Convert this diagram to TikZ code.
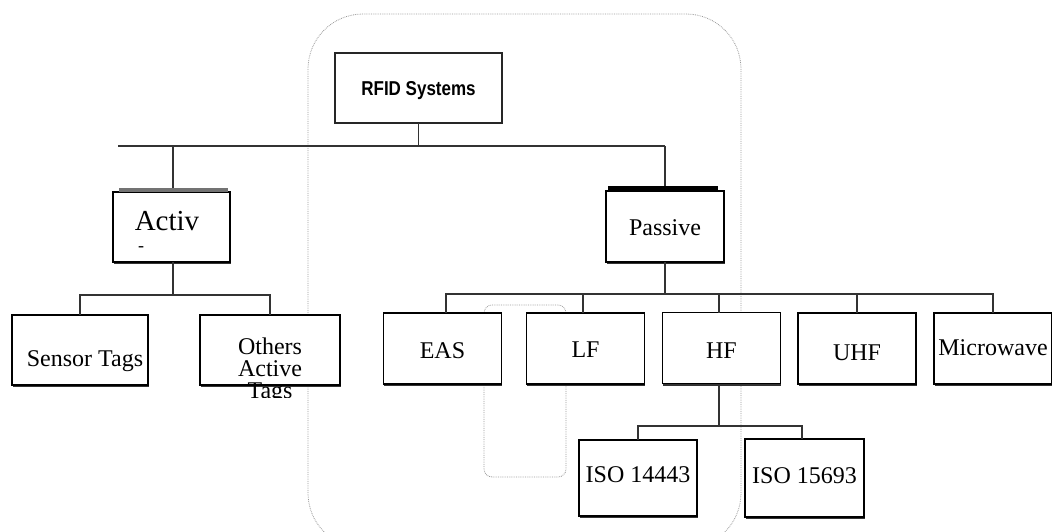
\documentclass[tikz,border=0pt]{standalone}
\usepackage{fontspec}
\setmainfont{Liberation Serif}
\newfontfamily\rfidfont{Liberation Sans}
\usetikzlibrary{shadows}
\begin{document}
\begin{tikzpicture}[x=1pt,y=-1pt,
  box/.style={draw=black, line width=1.8pt, fill=white, inner sep=0pt, outer sep=0pt,
    minimum width=118pt, minimum height=71pt, text depth=0pt, text height=18pt,
    font=\fontsize{24}{26}\selectfont},
  sbox/.style={box, drop shadow={shadow xshift=0.6pt, shadow yshift=-2.2pt, fill=black!80, opacity=1}},
  conn/.style={line width=1.3pt, draw=black!80},
  ghost/.style={draw=black!40, densely dotted, line width=0.8pt}]
\useasboundingbox (0,0) rectangle (1052,531);
% faint background outlines
\begin{scope}
  \clip (0,0) rectangle (1052,531);
  \draw[ghost, rounded corners=55pt] (308,14) rectangle (741,548);
  \draw[ghost, rounded corners=8pt] (484,305) rectangle (566,477);
\end{scope}
% root
\node[box, line width=1.2pt, draw=black!85, minimum width=167pt, minimum height=70pt,
  text height=15pt, font=\rfidfont\bfseries\fontsize{17}{19}\selectfont] (rfid) at (418.5,88) {\scalebox{1}[1.18]{RFID Systems}};
% level 1
\node[sbox, minimum width=117pt, minimum height=70pt] (activ) at (171.5,227) {};
\node[font=\fontsize{29}{30}\selectfont, anchor=base, inner sep=0pt] (activt) at (167,230) {Activ};
\node[font=\fontsize{18}{18}\selectfont, inner sep=0pt] (activdash) at (141,249) {-};
\node[sbox, text height=17pt] (passive) at (665,226.5) {Passive};
\fill[black!55] ([xshift=6pt]activ.north west) rectangle ([xshift=-2pt,yshift=4pt]activ.north east);
\fill[black] ([xshift=2pt]passive.north west) rectangle ([xshift=-6pt,yshift=5pt]passive.north east);
% level 2, active
\node[sbox, minimum width=136pt, minimum height=70pt, text height=32pt] (sensor) at (80,350) {\hspace*{10pt}Sensor Tags};
\node[sbox, minimum width=140pt, minimum height=70pt] (others) at (270,350) {};
\begin{scope}
  \clip (150,300) rectangle (400,397);
  \node[anchor=north, align=center, inner sep=0pt, font=\fontsize{24}{22}\selectfont] (otherst) at (270,337.5) {Others\\Active\\Tags};
\end{scope}
% level 2, passive
\node[sbox, text height=19pt] (eas) at (442.5,348.5) {EAS};
\node[sbox, text height=17pt] (lf) at (585.5,348.5) {LF};
\node[sbox, text height=20pt] (hf) at (721.5,348) {HF};
\node[sbox, text height=23pt] (uhf) at (857,348.5) {UHF};
\node[sbox, text height=13pt] (micro) at (993,348.5) {Microwave};
% level 3
\node[sbox, minimum height=76pt, text height=8pt] (iso1) at (638,478) {ISO 14443};
\node[sbox, minimum width=119pt, minimum height=78pt, text height=10pt] (iso2) at (804.5,478) {ISO 15693};
% connectors
\coordinate (b1) at (118,146);
\coordinate (b1r) at (665,146);
\coordinate (b2) at (0,295);
\coordinate (b3) at (0,294);
\coordinate (b4) at (0,426);
\draw[conn] (b1) -- (b1r);
\draw[conn] (rfid.south) -- (rfid.south |- b1);
\draw[conn] ([xshift=1.5pt,yshift=4pt]activ.north) -- ([xshift=1.5pt]activ.north |- b1);
\draw[conn] ([yshift=5pt]passive.north) -- (passive.north |- b1);
\draw[conn] ([xshift=1.5pt]activ.south) -- ([xshift=1.5pt]activ.south |- b2);
\draw[conn] (sensor.north) -- (sensor.north |- b2) -- (others.north |- b2) -- (others.north);
\draw[conn] (passive.south) -- (passive.south |- b3);
\draw[conn] ([xshift=3.5pt]eas.north) -- ([xshift=3.5pt]eas.north |- b3) -- (micro.north |- b3) -- (micro.north);
\draw[conn] ([xshift=-2.5pt]lf.north) -- ([xshift=-2.5pt]lf.north |- b3);
\draw[conn] ([xshift=-2.5pt]hf.north) -- ([xshift=-2.5pt]hf.north |- b3);
\draw[conn] (uhf.north) -- (uhf.north |- b3);
\draw[conn] ([xshift=-2.5pt]hf.south) -- ([xshift=-2.5pt]hf.south |- b4);
\draw[conn] (iso1.north) -- (iso1.north |- b4) -- ([xshift=-2.5pt]iso2.north |- b4) -- ([xshift=-2.5pt]iso2.north);
\end{tikzpicture}
\end{document}
